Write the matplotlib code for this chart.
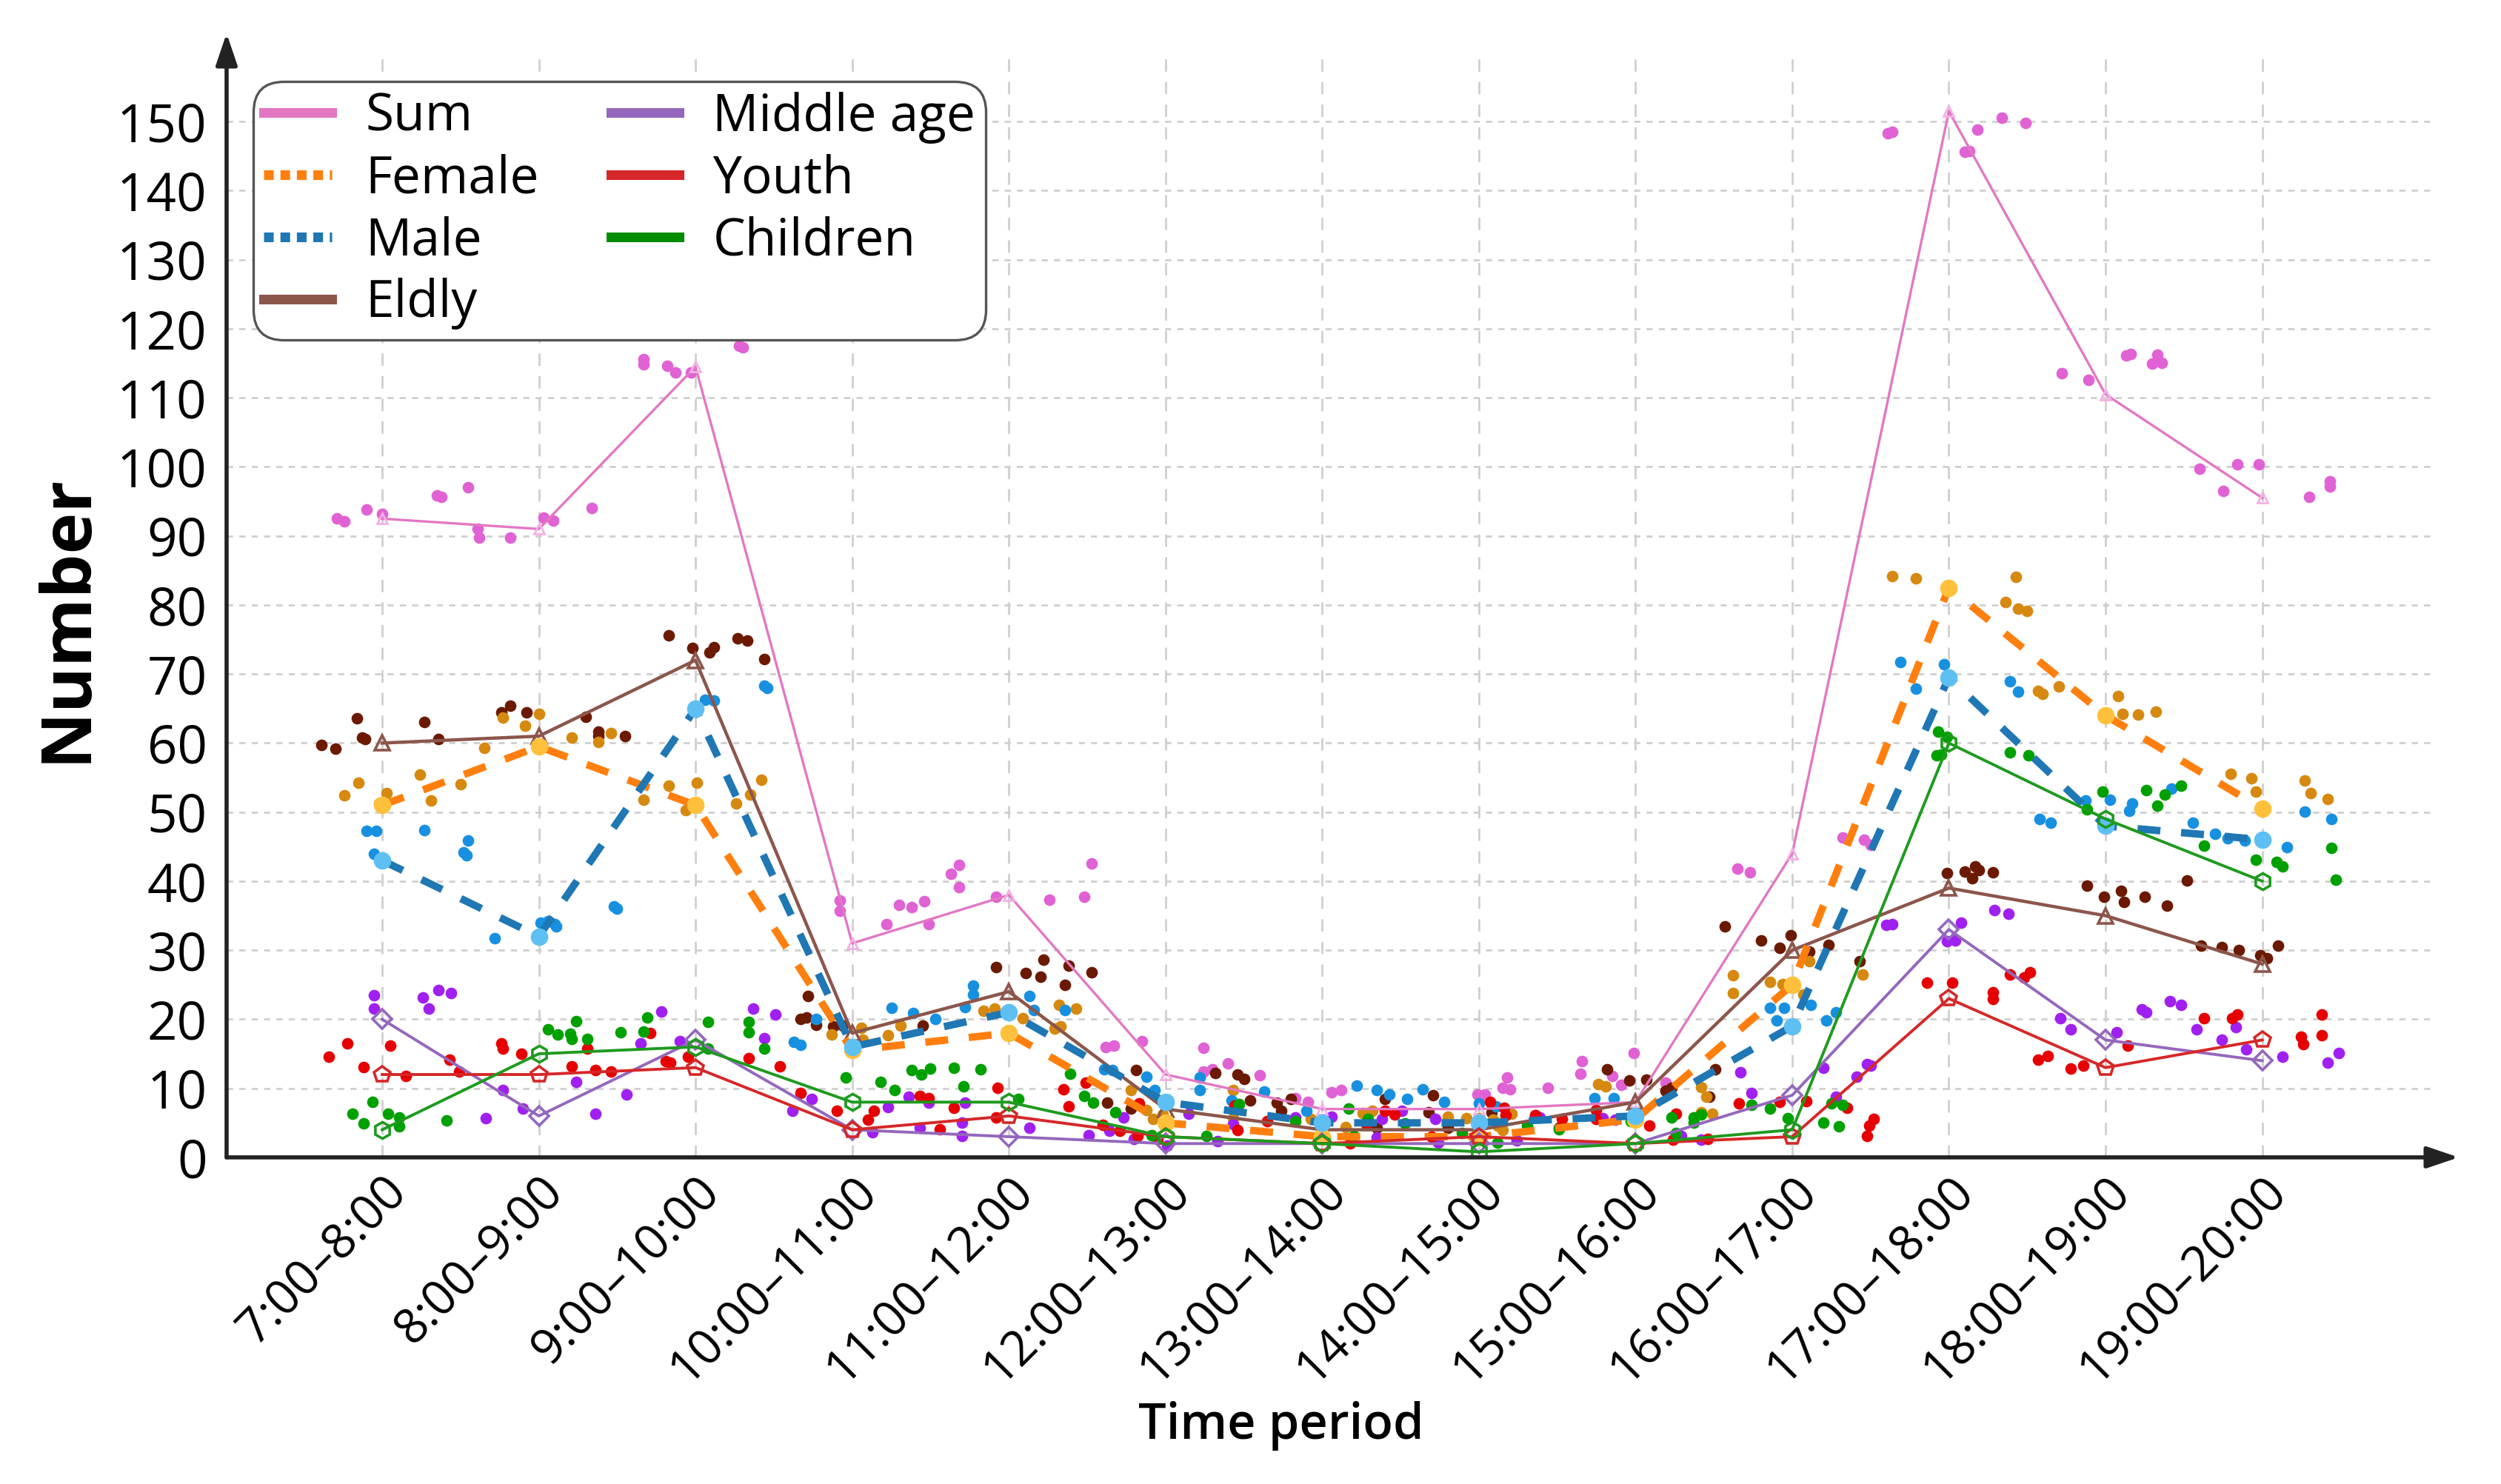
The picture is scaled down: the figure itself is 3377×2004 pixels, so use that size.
import matplotlib
matplotlib.use('Agg')
import matplotlib.pyplot as plt
from matplotlib.lines import Line2D

plt.rcParams['font.family'] = ['Open Sans', 'DejaVu Sans']

# categories
periods = ['7:00–8:00', '8:00–9:00', '9:00–10:00', '10:00–11:00', '11:00–12:00',
           '12:00–13:00', '13:00–14:00', '14:00–15:00', '15:00–16:00', '16:00–17:00',
           '17:00–18:00', '18:00–19:00', '19:00–20:00']

# mean values per period
sum_line = [92.5, 91, 114.5, 31, 38, 12, 7, 7, 8, 44, 151.5, 110.5, 95.5]
female_line = [51, 59.5, 51, 15.5, 18, 5, 3, 3, 5.5, 25, 82.5, 64, 50.5]
male_line = [43, 32, 65, 16, 21, 8, 5, 5, 6, 19, 69.5, 48, 46]
eldly_line = [60, 61, 72, 18, 24, 7, 4, 4, 8, 30, 39, 35, 28]
middle_line = [20, 6, 17, 4, 3, 2, 2, 2, 2, 9, 33, 17, 14]
youth_line = [12, 12, 13, 4, 6, 3, 2, 3, 2, 3, 23, 13, 17]
children_line = [4, 15, 16, 8, 8, 3, 2, 0.8, 2, 4, 60, 49, 40]

# single observations (x in period index units, value)
sum_dots = [(-0.29, 92.5), (-0.24, 92.1), (-0.10, 93.8), (0.0, 93.2), (0.35, 95.9), (0.38, 95.7),
            (0.55, 97.0), (0.61, 91.0), (0.62, 89.8), (0.82, 89.7), (1.03, 92.6), (1.09, 92.2),
            (1.34, 94.0), (1.67, 115.6), (1.67, 114.8), (1.82, 114.6), (1.87, 113.7), (1.97, 113.7),
            (2.28, 117.5), (2.30, 117.3), (2.92, 37.2), (2.92, 35.7), (3.22, 33.8), (3.30, 36.6),
            (3.38, 36.2), (3.46, 37.1), (3.49, 33.8), (3.63, 41.1), (3.68, 42.4), (3.68, 39.1),
            (3.92, 37.7), (4.26, 37.3), (4.48, 37.7), (4.53, 42.6), (4.62, 16.0), (4.67, 16.2),
            (4.85, 16.8), (5.24, 15.9), (5.24, 12.4), (5.30, 12.7), (5.40, 13.6), (5.60, 11.9),
            (5.83, 8.6), (5.91, 8.0), (6.06, 9.4), (6.12, 9.7), (6.99, 9.1), (7.04, 9.1),
            (7.15, 10.1), (7.20, 9.9), (7.18, 11.6), (7.44, 10.1), (7.65, 12.1), (7.66, 13.9),
            (7.85, 11.8), (7.91, 10.5), (7.99, 15.1), (8.19, 10.8), (8.65, 41.8), (8.73, 41.3),
            (9.32, 46.3), (9.46, 46.0), (9.50, 45.2), (9.61, 148.3), (9.64, 148.5), (10.10, 145.6),
            (10.13, 145.7), (10.18, 148.8), (10.34, 150.6), (10.49, 149.8), (10.72, 113.6),
            (10.89, 112.6), (11.13, 116.1), (11.16, 116.4), (11.30, 114.9), (11.36, 115.1),
            (11.33, 116.2), (11.60, 99.7), (11.75, 96.5), (11.84, 100.4), (11.98, 100.4),
            (12.30, 95.6), (12.43, 97.9), (12.43, 97.1)]

eldly_dots = [(-0.39, 59.7), (-0.30, 59.2), (-0.13, 60.8), (-0.11, 60.6), (0.36, 60.6), (1.38, 61.7),
              (1.38, 61.0), (1.55, 61.0), (-0.16, 63.6), (0.27, 63.1), (0.76, 64.4), (0.82, 65.4),
              (0.92, 64.4), (1.30, 63.8), (1.83, 75.6), (1.98, 73.8), (2.09, 73.1), (2.12, 73.9),
              (2.27, 75.2), (2.33, 74.8), (2.44, 72.2), (2.72, 23.4), (2.67, 20.0), (2.71, 20.3),
              (2.77, 19.2), (2.88, 19.0), (2.94, 19.1), (3.45, 19.1), (3.92, 27.6), (4.11, 26.7),
              (4.20, 26.2), (4.22, 28.6), (4.36, 25.0), (4.38, 27.8), (4.53, 26.8), (4.63, 7.9),
              (4.78, 7.1), (4.81, 12.6), (5.32, 12.2), (5.46, 12.0), (5.50, 11.4), (5.54, 8.3),
              (5.71, 7.9), (5.74, 6.7), (5.80, 8.5), (6.40, 8.5), (6.35, 4.3), (6.68, 6.5),
              (6.71, 9.0), (6.80, 4.3), (7.08, 6.5), (7.51, 4.3), (7.82, 12.7), (7.96, 11.1),
              (8.07, 11.3), (8.19, 9.6), (8.23, 10.1), (8.51, 12.7), (8.47, 8.8), (8.57, 33.4),
              (8.80, 31.4), (8.92, 30.3), (8.99, 32.2), (9.11, 29.8), (9.23, 30.8), (9.43, 28.4),
              (9.99, 41.2), (10.10, 41.4), (10.17, 42.1), (10.19, 41.6), (10.15, 40.4), (10.28, 41.3),
              (10.88, 39.3), (10.99, 37.7), (11.10, 38.6), (11.12, 37.0), (11.25, 37.7), (11.39, 36.4),
              (11.52, 40.1), (11.61, 30.7), (11.74, 30.4), (11.85, 30.0), (11.99, 29.3), (12.03, 28.8),
              (12.10, 30.7)]

female_dots = [(-0.24, 52.4), (-0.15, 54.3), (-0.02, 51.2), (0.03, 52.7), (0.24, 55.4), (0.31, 51.7),
               (0.50, 54.0), (0.65, 59.3), (0.91, 62.5), (1.00, 64.2), (0.77, 63.7), (1.21, 60.8),
               (1.38, 60.1), (1.46, 61.4), (1.67, 51.8), (1.83, 53.8), (1.94, 50.3), (2.01, 54.3),
               (2.26, 51.3), (2.35, 52.5), (2.42, 54.7), (2.87, 17.8), (3.06, 18.8), (3.07, 17.0),
               (3.23, 17.7), (3.31, 19.1), (3.84, 21.2), (3.91, 21.5), (4.09, 20.1), (4.32, 22.1),
               (4.43, 21.5), (4.29, 18.7), (4.33, 19.0), (4.78, 9.7), (4.88, 6.9), (4.92, 5.6),
               (4.98, 6.2), (5.43, 9.7), (5.43, 5.7), (5.93, 5.6), (6.15, 4.4), (6.26, 6.4),
               (6.32, 6.7), (6.80, 5.9), (7.00, 5.7), (6.92, 5.7), (7.09, 5.5), (7.12, 4.6),
               (7.15, 4.0), (7.21, 6.3), (7.76, 10.6), (7.81, 10.3), (8.42, 10.2), (8.45, 8.8),
               (8.42, 6.5), (8.49, 6.3), (8.62, 26.4), (8.62, 23.8), (8.86, 25.4), (8.94, 25.1),
               (9.07, 23.6), (9.11, 28.4), (9.45, 26.5), (9.64, 84.2), (9.79, 83.8), (10.43, 84.1),
               (10.36, 80.4), (10.44, 79.5), (10.50, 79.1), (10.57, 67.6), (10.60, 67.1), (10.70, 68.2),
               (11.08, 66.8), (11.11, 64.2), (11.21, 64.1), (11.32, 64.6), (11.80, 55.5), (11.93, 54.9),
               (11.96, 53.0), (12.27, 54.6), (12.31, 52.7), (12.42, 51.9)]

male_dots = [(-0.10, 47.3), (-0.04, 47.3), (0.27, 47.4), (-0.05, 44.0), (0.55, 45.9), (0.52, 44.2),
             (0.54, 43.7), (0.72, 31.7), (1.01, 34.0), (1.06, 34.2), (1.10, 33.8), (1.11, 33.4),
             (1.48, 36.3), (1.50, 36.0), (2.06, 66.3), (2.12, 66.2), (2.44, 68.3), (2.46, 68.0),
             (2.63, 16.7), (2.67, 16.3), (2.77, 20.0), (3.25, 21.7), (3.39, 20.9), (3.53, 20.0),
             (3.72, 21.8), (3.77, 24.9), (3.77, 23.6), (4.13, 23.4), (4.16, 21.3), (4.36, 21.3),
             (4.61, 12.8), (4.66, 12.6), (4.88, 11.7), (4.93, 9.8), (5.22, 11.6), (5.22, 9.7),
             (5.42, 8.3), (5.63, 9.5), (5.90, 6.7), (6.22, 10.4), (6.35, 9.7), (6.43, 9.1),
             (6.54, 8.5), (6.64, 9.9), (6.78, 8.0), (7.00, 7.8), (7.11, 7.4), (7.74, 8.6),
             (7.86, 8.6), (8.86, 21.7), (8.95, 21.7), (8.90, 19.8), (9.12, 22.1), (9.22, 19.8),
             (9.28, 21.0), (9.69, 71.7), (9.79, 67.9), (9.97, 71.4), (10.00, 69.7), (10.39, 69.0),
             (10.44, 67.4), (10.58, 49.0), (10.65, 48.5), (10.87, 51.7), (11.03, 51.8), (11.17, 51.2),
             (11.15, 50.2), (11.42, 53.4), (11.56, 48.5), (11.70, 46.9), (11.78, 46.2), (11.89, 45.9),
             (12.16, 44.9), (12.27, 50.1), (12.44, 49.0)]

middle_dots = [(-0.05, 23.5), (-0.05, 21.5), (0.26, 23.2), (0.30, 21.5), (0.36, 24.2), (0.44, 23.8),
               (0.77, 9.8), (0.66, 5.7), (0.90, 7.1), (1.24, 10.9), (1.36, 6.3), (1.56, 9.1),
               (1.65, 16.5), (1.78, 21.1), (1.90, 16.8), (2.37, 21.5), (2.51, 20.7), (2.44, 17.3),
               (2.62, 6.7), (2.74, 8.5), (3.13, 3.6), (3.23, 7.3), (3.36, 8.8), (3.43, 4.3),
               (3.49, 7.9), (3.70, 5.0), (3.70, 3.1), (3.72, 7.9), (4.13, 4.3), (4.51, 3.2),
               (4.64, 3.9), (4.73, 5.8), (4.80, 2.7), (5.01, 1.7), (5.15, 6.3), (5.33, 2.3),
               (5.43, 4.8), (5.83, 5.8), (6.06, 5.9), (6.35, 2.9), (6.38, 5.6), (6.51, 6.8),
               (6.74, 2.1), (6.72, 5.6), (7.24, 2.5), (7.36, 6.1), (7.39, 5.8), (7.79, 5.7),
               (7.87, 5.5), (8.29, 3.1), (8.42, 2.6), (8.67, 12.3), (8.74, 9.3), (9.20, 13.0),
               (9.28, 8.8), (9.41, 11.7), (9.48, 13.5), (9.50, 13.3), (9.60, 33.7), (9.64, 33.8),
               (9.99, 31.3), (10.04, 31.4), (10.08, 34.0), (10.29, 35.8), (10.38, 35.3), (10.71, 20.2),
               (10.78, 18.5), (11.07, 18.1), (11.23, 21.4), (11.26, 21.0), (11.41, 22.6), (11.48, 22.1),
               (11.58, 18.5), (11.74, 17.0), (11.83, 18.9), (11.90, 15.7), (12.13, 14.6), (12.42, 13.7),
               (12.49, 15.1)]

youth_dots = [(-0.34, 14.6), (-0.22, 16.5), (-0.12, 13.1), (0.05, 16.2), (0.15, 11.8), (0.43, 14.1),
              (0.49, 12.4), (0.76, 16.5), (0.77, 15.8), (0.89, 15.0), (1.21, 13.2), (1.31, 15.8),
              (1.36, 12.6), (1.46, 12.4), (1.71, 18.0), (1.81, 13.9), (1.84, 13.7), (1.95, 14.6),
              (2.34, 14.4), (2.54, 13.2), (2.67, 9.3), (2.90, 6.7), (3.10, 5.5), (3.14, 6.8),
              (3.43, 8.9), (3.49, 8.6), (3.56, 4.1), (3.65, 7.2), (3.92, 5.8), (3.93, 10.1),
              (4.35, 9.9), (4.38, 7.4), (4.49, 10.8), (4.60, 4.7), (4.71, 3.9), (4.82, 3.1),
              (4.83, 7.8), (4.95, 2.7), (5.44, 7.5), (5.46, 4.0), (5.65, 5.2), (6.18, 2.0),
              (6.28, 4.8), (6.40, 6.8), (6.46, 6.2), (6.70, 3.0), (7.07, 8.0), (7.16, 7.2),
              (7.17, 6.1), (7.36, 6.1), (7.53, 5.6), (7.75, 6.9), (7.75, 5.6), (8.09, 4.6),
              (8.26, 6.3), (8.24, 2.6), (8.46, 2.7), (8.66, 7.8), (8.92, 8.0), (9.09, 8.1),
              (9.35, 7.2), (9.49, 4.6), (9.52, 5.6), (9.48, 3.1), (9.86, 25.3), (10.02, 25.3),
              (10.28, 23.9), (10.28, 22.9), (10.39, 26.5), (10.48, 26.0), (10.52, 26.8), (10.57, 14.1),
              (10.63, 14.7), (10.78, 12.9), (10.86, 13.3), (11.14, 16.2), (11.63, 20.1), (11.81, 20.1),
              (11.84, 20.7), (12.25, 17.5), (12.26, 16.4), (12.38, 20.7), (12.38, 17.7)]

children_dots = [(-0.19, 6.3), (-0.12, 4.9), (-0.06, 8.0), (0.04, 6.3), (0.11, 5.8), (0.11, 4.5),
                 (0.41, 5.3), (1.06, 18.5), (1.12, 17.8), (1.20, 17.9), (1.21, 17.2), (1.24, 19.7),
                 (1.31, 17.1), (1.52, 18.1), (1.67, 18.2), (1.69, 20.3), (2.08, 19.6), (2.08, 15.8),
                 (2.34, 19.6), (2.34, 18.1), (2.44, 15.8), (2.96, 11.6), (3.18, 10.9), (3.27, 9.7),
                 (3.38, 12.6), (3.44, 12.0), (3.50, 12.9), (3.65, 13.0), (3.71, 10.3), (3.82, 12.7),
                 (4.06, 8.5), (4.39, 12.1), (4.48, 8.9), (4.54, 7.9), (4.68, 6.5), (4.91, 3.2),
                 (5.26, 3.1), (5.47, 7.7), (5.83, 5.2), (6.17, 7.1), (6.20, 3.1), (6.29, 5.6),
                 (6.53, 4.9), (6.89, 3.5), (7.12, 2.1), (7.31, 4.6), (7.51, 4.1), (7.97, 5.2),
                 (8.23, 5.8), (8.37, 5.8), (8.37, 5.0), (8.42, 6.2), (8.26, 3.5), (8.74, 7.6),
                 (8.86, 7.1), (8.97, 5.7), (9.20, 5.0), (9.25, 7.8), (9.30, 4.5), (9.32, 7.6),
                 (9.93, 61.7), (9.99, 60.9), (9.92, 58.2), (9.95, 58.3), (10.39, 58.6), (10.51, 58.2),
                 (10.88, 50.4), (10.98, 53.0), (11.26, 53.2), (11.33, 50.9), (11.38, 52.5), (11.48, 53.8),
                 (11.63, 45.1), (11.96, 43.1), (12.09, 42.8), (12.13, 42.1), (12.44, 44.8), (12.47, 40.2)]

fig = plt.figure(figsize=(16.885, 10.02), dpi=200)
ax = fig.add_axes([0.0906, 0.2201, 0.8822, 0.7445])

x = list(range(len(periods)))


def dots(pts, color):
    ax.scatter([p[0] for p in pts], [p[1] for p in pts], s=32, color=color,
               linewidths=0, zorder=2)


# scatter of single observations
dots(sum_dots, '#e062d4')
dots(eldly_dots, '#6b1a00')
dots(female_dots, '#d68910')
dots(male_dots, '#1890e0')
dots(middle_dots, '#a020f0')
dots(youth_dots, '#e60000')
dots(children_dots, '#00a000')

# mean lines
ax.plot(x, sum_line, color='#e377c2', lw=1.2, marker='^', ms=5, mfc='none',
        mec='#f4b0e4', zorder=3)
ax.plot(x, eldly_line, color='#8c564b', lw=1.6, marker='^', ms=7.5, mfc='none',
        mew=1.3, zorder=3)
ax.plot(x, female_line, color='#ff7f0e', lw=3.6, dashes=(3.1, 2.8), zorder=3)
ax.plot(x, female_line, ls='none', marker='o', ms=7.5, color='#ffc13b', zorder=3)
ax.plot(x, male_line, color='#1f77b4', lw=3.6, dashes=(3.1, 2.8), zorder=3)
ax.plot(x, male_line, ls='none', marker='o', ms=7.5, color='#5ec0f2', zorder=3)
ax.plot(x, middle_line, color='#9467bd', lw=1.4, marker='D', ms=6.5, mfc='none',
        mew=1.3, zorder=3)
ax.plot(x, youth_line, color='#d62728', lw=1.4, marker='p', ms=8, mfc='none',
        mew=1.3, zorder=3)
ax.plot(x, children_line, color='#1e9a1e', lw=1.4, marker='h', ms=8, mfc='none',
        mew=1.3, zorder=3)

ax.set_xlim(-0.993, 13.09)
ax.set_ylim(0, 160)
ax.set_yticks(range(0, 151, 10))
ax.set_xticks(x)
ax.set_xticklabels(periods, rotation=45, ha='right', va='top', rotation_mode='anchor',
                   fontweight='medium')
for t in ax.get_yticklabels():
    t.set_fontweight('medium')
ax.tick_params(axis='x', length=0, labelsize=23.5, pad=5)
ax.tick_params(axis='y', length=0, labelsize=25.5, pad=9.5)

ax.grid(axis='x', color='#cfcfcf', lw=1.0, ls=(0, (6, 5)))
ax.grid(axis='y', color='#cfcfcf', lw=1.0, ls=(0, (3, 3)))
ax.set_axisbelow(True)
for s in ax.spines.values():
    s.set_visible(False)

# axis arrows
arrow = dict(arrowstyle='-|>,head_length=0.65,head_width=0.22', lw=2.0, color='#222222',
             shrinkA=0, shrinkB=0, mutation_scale=20)
ax.annotate('', xy=(1.0117, 0), xytext=(0, 0), xycoords='axes fraction',
            arrowprops=arrow, annotation_clip=False, zorder=5)
ax.annotate('', xy=(0, 1.0174), xytext=(0, 0), xycoords='axes fraction',
            arrowprops=arrow, annotation_clip=False, zorder=5)

ax.set_ylabel('Number', fontsize=34, fontweight='bold', va='center')
ax.yaxis.set_label_coords(-0.072, 0.488)
ax.set_xlabel('Time period', fontsize=24, fontweight='semibold', va='center')
ax.xaxis.set_label_coords(0.478, -0.243)

handles = [
    Line2D([], [], color='#e377c2', lw=4.7),
    Line2D([], [], color='#ff7f0e', lw=4.7, ls=(0, (1.0, 0.7))),
    Line2D([], [], color='#1f77b4', lw=4.7, ls=(0, (1.0, 0.7))),
    Line2D([], [], color='#8c564b', lw=4.7),
    Line2D([], [], color='#9467bd', lw=4.7),
    Line2D([], [], color='#d62728', lw=4.7),
    Line2D([], [], color='#008c00', lw=4.7),
]
names = ['Sum', 'Female', 'Male', 'Eldly', 'Middle age', 'Youth', 'Children']
leg = ax.legend(handles, names, ncol=2, loc='upper left', bbox_to_anchor=(0.012, 0.974),
                borderaxespad=0, labelspacing=0.2, handlelength=1.33,
                handletextpad=0.65, columnspacing=1.4, borderpad=0.2, fancybox=True,
                framealpha=1, edgecolor='#555555',
                prop={'size': 25, 'weight': 'medium'})
leg.get_frame().set_linewidth(1.2)
leg.get_frame().set_boxstyle('round', pad=0, rounding_size=0.6)

fig.savefig('out.png', dpi=200)
